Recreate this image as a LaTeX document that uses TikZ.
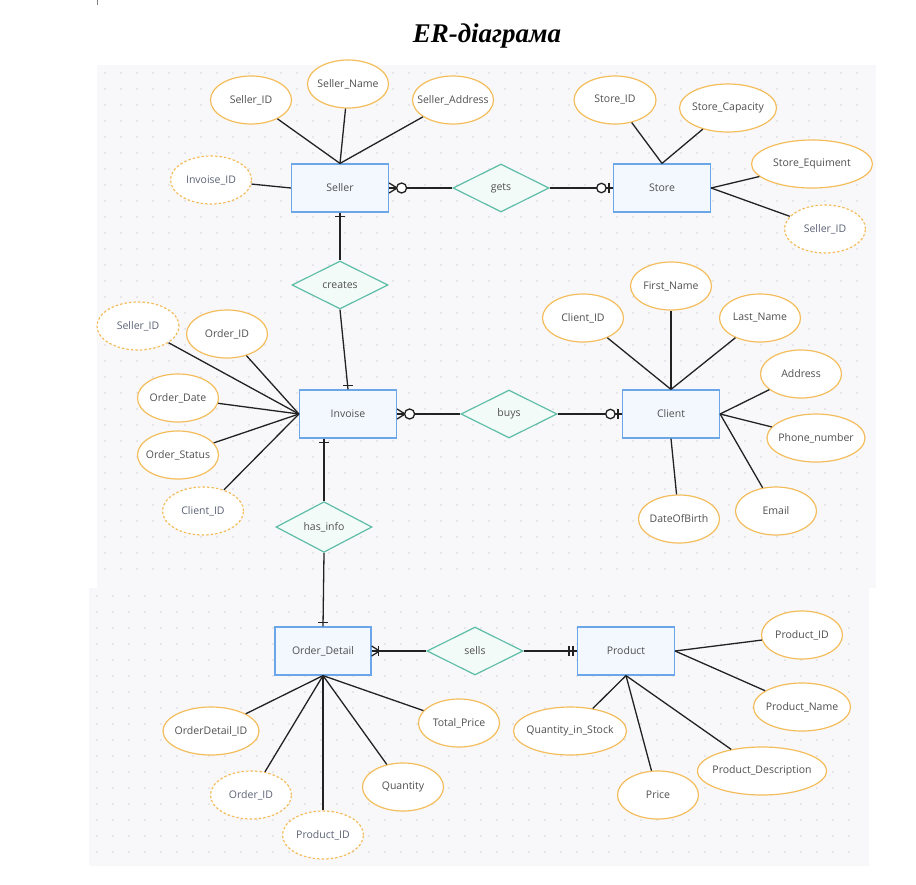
\documentclass[tikz,border=0pt]{standalone}
\usepackage{fontspec}
\usetikzlibrary{shapes.geometric,calc}
\newfontfamily\diagfont{Open Sans}
\newfontfamily\titlefont{Liberation Serif}
\newcommand{\attxt}[1]{\makebox[0pt][c]{#1}}
\definecolor{entB}{HTML}{6AA6E8}
\definecolor{entF}{HTML}{F3F8FE}
\definecolor{relB}{HTML}{5EBDA7}
\definecolor{relF}{HTML}{F3FBF9}
\definecolor{attB}{HTML}{F4BD5C}
\definecolor{txtC}{HTML}{505050}
\definecolor{keyC}{HTML}{5C6375}
\definecolor{bgc}{HTML}{F8F8FB}
\definecolor{dotc}{HTML}{D6D6DC}
\definecolor{lineC}{HTML}{222222}
\begin{document}
\begin{tikzpicture}[x=1pt,y=-1pt,
  every node/.style={font=\diagfont\fontsize{10.5}{12}\selectfont, text=txtC},
  entity/.style={rectangle, draw=entB, fill=entF, line width=1.2pt, minimum width=97pt, minimum height=48pt, inner sep=0pt},
  rel/.style={diamond, draw=relB, fill=relF, line width=1.2pt, minimum width=96pt, minimum height=48pt, inner sep=0pt},
  attr/.style={ellipse, draw=attB, fill=white, line width=1.2pt, minimum width=81pt, minimum height=48pt, inner sep=0pt},
  keyattr/.style={attr, dash pattern=on 2.5pt off 2pt, text=keyC},
  conn/.style={draw=lineC, line width=1.3pt},
  zeromany/.pic={\draw[conn] (0,-5)--(8,0)--(0,5); \draw[conn,fill=white] (12.5,0) circle (5);},
  zeroone/.pic={\draw[conn] (4,-5)--(4,5); \draw[conn,fill=white] (11.5,0) circle (4.7);},
  onebar/.pic={\draw[conn] (4,-5)--(4,5);},
  onemany/.pic={\draw[conn] (0,-5)--(8,0)--(0,5); \draw[conn] (7,-5)--(7,5);},
  oneone/.pic={\draw[conn] (4,-5)--(4,5); \draw[conn] (8,-5)--(8,5);}
]
\useasboundingbox (0,0) rectangle (916,884);
% background panels
\fill[bgc] (97,65) rectangle (876,588);
\fill[bgc] (89,588) rectangle (869,866);
\foreach \x in {105,121,...,870} \foreach \y in {73,89,...,582} \fill[dotc] (\x,\y) circle (0.9);
\foreach \x in {97,113,...,862} \foreach \y in {596,612,...,860} \fill[dotc] (\x,\y) circle (0.9);
\draw[gray, line width=0.6pt] (97,0) -- (97,5);
% title
\node[font=\titlefont\bfseries\itshape\fontsize{27}{32}\selectfont, text=black] (title) at (487,36) {ER-діаграма};
% entities
\node[entity] (Seller) at (340,188) {Seller};
\node[entity] (Store) at (662,188) {Store};
\node[entity] (Invoise) at (348,414) {Invoise};
\node[entity] (Client) at (671,414) {Client};
\node[entity, minimum width=96pt] (OrderDetail) at (323,651) {Order\_Detail};
\node[entity] (Product) at (626,651) {Product};
% relationships
\node[rel] (gets) at (501,188) {gets};
\node[rel] (creates) at (340,285) {creates};
\node[rel] (buys) at (509,414) {buys};
\node[rel] (hasinfo) at (324,527) {has\_info};
\node[rel] (sells) at (475,651) {sells};
% seller attributes
\node[attr] (SellerID) at (251,100) {\attxt{Seller\_ID}};
\node[attr] (SellerName) at (348,84) {\attxt{Seller\_Name}};
\node[attr] (SellerAddress) at (453,100) {\attxt{Seller\_Address}};
\node[keyattr] (InvoiseID) at (211,180) {\attxt{Invoise\_ID}};
% store attributes
\node[attr, minimum width=82pt] (StoreID) at (615,100) {\attxt{Store\_ID}};
\node[attr, minimum width=97pt] (StoreCapacity) at (728,108) {\attxt{Store\_Capacity}};
\node[attr, minimum width=121pt] (StoreEquiment) at (812,164) {\attxt{Store\_Equiment}};
\node[keyattr] (StoreSellerID) at (825,229) {\attxt{Seller\_ID}};
% invoise attributes
\node[keyattr, minimum width=82pt] (InvSellerID) at (138,326) {\attxt{Seller\_ID}};
\node[attr] (OrderID) at (227,334) {\attxt{Order\_ID}};
\node[attr] (OrderDate) at (178,398) {\attxt{Order\_Date}};
\node[attr] (OrderStatus) at (178,455) {\attxt{Order\_Status}};
\node[keyattr] (InvClientID) at (203,511) {\attxt{Client\_ID}};
% client attributes
\node[attr] (ClientID) at (583,318) {\attxt{Client\_ID}};
\node[attr] (FirstName) at (671,286) {\attxt{First\_Name}};
\node[attr] (LastName) at (760,318) {\attxt{Last\_Name}};
\node[attr] (Address) at (801,374) {\attxt{Address}};
\node[attr, minimum width=98pt] (Phone) at (816,438) {\attxt{Phone\_number}};
\node[attr] (Email) at (776,511) {\attxt{Email}};
\node[attr] (DOB) at (679,519) {\attxt{DateOfBirth}};
% order detail attributes
\node[attr, minimum width=96pt] (OrderDetailID) at (211,731) {\attxt{OrderDetail\_ID}};
\node[keyattr] (ODOrderID) at (251,795) {\attxt{Order\_ID}};
\node[keyattr] (ODProductID) at (323,835) {\attxt{Product\_ID}};
\node[attr] (Quantity) at (403,787) {\attxt{Quantity}};
\node[attr] (TotalPrice) at (459,723) {\attxt{Total\_Price}};
% product attributes
\node[attr] (ProductID) at (802,635) {\attxt{Product\_ID}};
\node[attr, minimum width=97pt] (ProductName) at (802,707) {\attxt{Product\_Name}};
\node[attr, minimum width=129pt] (ProductDesc) at (762,771) {\attxt{Product\_Description}};
\node[attr] (Price) at (658,795) {\attxt{Price}};
\node[attr, minimum width=113pt] (QtyStock) at (570,731) {\attxt{Quantity\_in\_Stock}};
% attribute connectors
\foreach \a in {SellerID,SellerName,SellerAddress} \draw[conn] (Seller.north) -- (\a);
\draw[conn] (InvoiseID) -- (Seller.west);
\foreach \a in {StoreID,StoreCapacity} \draw[conn] (Store.north) -- (\a);
\foreach \a in {StoreEquiment,StoreSellerID} \draw[conn] (Store.east) -- (\a);
\foreach \a in {InvSellerID,OrderID,OrderDate,OrderStatus,InvClientID} \draw[conn] (Invoise.west) -- (\a);
\foreach \a in {ClientID,FirstName,LastName} \draw[conn] (Client.north) -- (\a);
\foreach \a in {Address,Phone,Email} \draw[conn] (Client.east) -- (\a);
\draw[conn] (Client.south) -- (DOB);
\foreach \a in {OrderDetailID,ODOrderID,ODProductID,Quantity,TotalPrice} \draw[conn] (OrderDetail.south) -- (\a);
\foreach \a in {ProductID,ProductName} \draw[conn] (Product.east) -- (\a);
\foreach \a in {QtyStock,Price,ProductDesc} \draw[conn] (Product.south) -- (\a);
% relationship connectors
\draw[conn] (Seller.east) -- (gets.west);
\draw[conn] (gets.east) -- (Store.west);
\pic at (Seller.east) {zeromany};
\pic[rotate=180] at (Store.west) {zeroone};
\draw[conn] (Seller.south) -- (creates.north);
\draw[conn] (creates.south) -- (Invoise.north);
\pic[rotate=-90] at (Seller.south) {onebar};
\pic[rotate=90] at (Invoise.north) {onebar};
\draw[conn] (Invoise.east) -- (buys.west);
\draw[conn] (buys.east) -- (Client.west);
\pic at (Invoise.east) {zeromany};
\pic[rotate=180] at (Client.west) {zeroone};
\coordinate (invb) at (Invoise.south -| hasinfo.north);
\draw[conn] (invb) -- (hasinfo.north);
\draw[conn] (hasinfo.south) -- (OrderDetail.north);
\pic[rotate=-90] at (invb) {onebar};
\pic[rotate=90] at (OrderDetail.north) {onebar};
\draw[conn] (OrderDetail.east) -- (sells.west);
\draw[conn] (sells.east) -- (Product.west);
\pic at (OrderDetail.east) {onemany};
\pic[rotate=180] at (Product.west) {oneone};
\end{tikzpicture}
\end{document}
